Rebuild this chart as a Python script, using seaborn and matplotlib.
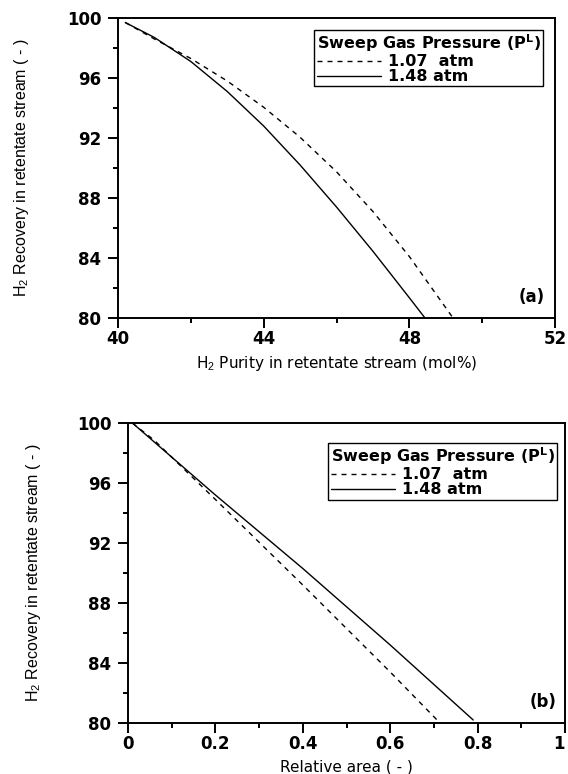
import matplotlib
matplotlib.use("Agg")
import matplotlib.pyplot as plt
import seaborn as sns
import pandas as pd

# --- data ---
# (a) recovery vs purity
purity_107 = [40.2, 41.0, 42.0, 43.0, 44.0, 45.0, 46.0, 47.0, 48.0, 49.2]
recov_107 = [99.7, 98.6, 97.3, 95.8, 94.05, 92.05, 89.75, 87.1, 84.1, 80.0]
purity_148 = [40.2, 41.0, 42.0, 43.0, 44.0, 45.0, 46.0, 47.0, 48.0, 48.43]
recov_148 = [99.7, 98.7, 97.1, 95.1, 92.8, 90.2, 87.4, 84.45, 81.35, 80.0]

# (b) recovery vs relative area
area_107 = [0.01, 0.06, 0.2, 0.4, 0.6, 0.714]
recov_b_107 = [100.0, 98.85, 94.9, 89.2, 83.4, 80.0]
area_148 = [0.01, 0.2, 0.4, 0.6, 0.79]
recov_b_148 = [100.0, 95.2, 90.3, 85.2, 80.2]

labels = ["1.07  atm", "1.48 atm"]
legend_title = r"Sweep Gas Pressure (P$^{\mathbf{L}}$)"

sns.set_style("ticks")
plt.rcParams["font.family"] = ["DejaVu Sans"]
plt.rcParams["mathtext.fontset"] = "custom"
plt.rcParams["mathtext.rm"] = "Liberation Sans"
plt.rcParams["mathtext.bf"] = "DejaVu Sans:bold"
for k in ["text.color", "axes.labelcolor", "xtick.color", "ytick.color"]:
    plt.rcParams[k] = "black"

fig = plt.figure(figsize=(5.68, 7.74), dpi=100)
ax1 = fig.add_axes([118 / 568, 1 - 318 / 774, 437 / 568, 300 / 774])
ax2 = fig.add_axes([128 / 568, 1 - 723 / 774, 437 / 568, 300 / 774])


def draw(ax, x1, y1, x2, y2):
    d1 = pd.DataFrame({"x": x1, "y": y1})
    d2 = pd.DataFrame({"x": x2, "y": y2})
    sns.lineplot(data=d1, x="x", y="y", ax=ax, color="black", lw=1.0,
                 label=labels[0], sort=False)
    sns.lineplot(data=d2, x="x", y="y", ax=ax, color="black", lw=1.0,
                 label=labels[1], sort=False)
    ax.lines[0].set_dashes((3.6, 3.6))


def style(ax):
    for s in ax.spines.values():
        s.set_linewidth(1.4)
        s.set_color("black")
    ax.tick_params(which="major", length=7, width=1.4, direction="out",
                   labelsize=12, top=False, right=False)
    ax.tick_params(axis="x", which="major", pad=1.5)
    ax.tick_params(axis="y", which="major", pad=5)
    ax.tick_params(which="minor", length=3.6, width=1.4, direction="out",
                   top=False, right=False)
    for t in ax.get_xticklabels() + ax.get_yticklabels():
        t.set_fontweight("bold")


def add_legend(ax, anchor):
    leg = ax.legend(title=legend_title, loc="upper right", bbox_to_anchor=anchor,
                    fancybox=False, frameon=True, edgecolor="black",
                    framealpha=1, handlelength=4.0, handletextpad=0.45,
                    labelspacing=0.0, borderpad=0.15, borderaxespad=0,
                    prop={"weight": "bold", "size": 11.5},
                    title_fontproperties={"weight": "bold", "size": 11.5},
                    alignment="left")
    leg.get_frame().set_linewidth(1.0)


# panel (a)
draw(ax1, purity_107, recov_107, purity_148, recov_148)
ax1.set_xlim(40, 52)
ax1.set_ylim(80, 100)
ax1.set_xticks([40, 44, 48, 52])
ax1.set_xticks([42, 46, 50], minor=True)
ax1.set_yticks([80, 84, 88, 92, 96, 100])
ax1.set_yticks([82, 86, 90, 94, 98], minor=True)
style(ax1)
ax1.set_xlabel(r"H$_2$ Purity in retentate stream (mol%)", fontsize=11, va="top")
ax1.xaxis.set_label_coords(0.5, -0.12)
ax1.set_ylabel(r"H$_2$ Recovery in retentate stream ( - )",
               family="Liberation Sans", fontsize=11.5)
ax1.yaxis.set_label_coords(-0.2, 0.5)
ax1.text(0.947, 0.07, "(a)", transform=ax1.transAxes, ha="center", va="center",
         fontsize=12, fontweight="bold")
add_legend(ax1, (0.973, 0.96))

# panel (b)
draw(ax2, area_107, recov_b_107, area_148, recov_b_148)
ax2.set_xlim(0, 1)
ax2.set_ylim(80, 100)
ax2.set_xticks([0, 0.2, 0.4, 0.6, 0.8, 1.0])
ax2.set_xticklabels(["0", "0.2", "0.4", "0.6", "0.8", "1"])
ax2.set_xticks([0.1, 0.3, 0.5, 0.7, 0.9], minor=True)
ax2.set_yticks([80, 84, 88, 92, 96, 100])
ax2.set_yticks([82, 86, 90, 94, 98], minor=True)
style(ax2)
ax2.get_xticklabels()[-1].set_horizontalalignment("right")
ax2.set_xlabel("Relative area ( - )", fontsize=11, va="top")
ax2.xaxis.set_label_coords(0.5, -0.122)
ax2.set_ylabel(r"H$_2$ Recovery in retentate stream ( - )",
               family="Liberation Sans", fontsize=11.5)
ax2.yaxis.set_label_coords(-0.195, 0.5)
ax2.text(0.95, 0.07, "(b)", transform=ax2.transAxes, ha="center", va="center",
         fontsize=12, fontweight="bold")
add_legend(ax2, (0.982, 0.933))

fig.savefig("out.png", dpi=100)
